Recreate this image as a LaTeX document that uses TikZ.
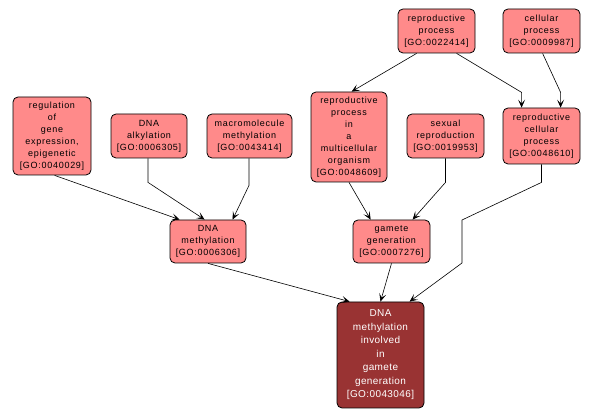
\documentclass[tikz,border=0pt]{standalone}
\usepackage{fontspec}
\usetikzlibrary{arrows.meta}
\newfontfamily\gofont{Liberation Sans}[LetterSpace=8]
\newfontfamily\gobigfont{Liberation Sans}[LetterSpace=4]
\definecolor{termfill}{RGB}{255,138,138}
\definecolor{mainfill}{RGB}{153,51,51}
\tikzset{
    term/.style={draw=black, line width=0.8pt, rounded corners=5pt, fill=termfill,
        align=center, inner sep=0pt,
        font=\gofont\fontsize{9}{12}\selectfont},
    mainterm/.style={term, fill=mainfill, text=white,
        font=\gobigfont\fontsize{10}{13.5}\selectfont},
    isa/.style={-{Stealth[length=8pt,width=7pt,inset=4pt]}, line width=0.6pt}
}
\begin{document}
\begin{tikzpicture}[x=1pt, y=-1pt]
    % Fix the page to the size of the picture
    \useasboundingbox[fill=white] (0,0) rectangle (595,419);

    % Top row
    \node[term, minimum width=77pt, minimum height=44pt] (rp) at (436.5, 31) {reproductive\\process\\{[GO:0022414]}};
    \node[term, minimum width=77pt, minimum height=44pt] (cp) at (541.5, 31) {cellular\\process\\{[GO:0009987]}};

    % Middle row
    \node[term, minimum width=78pt, minimum height=78pt] (reg) at (52, 136) {regulation\\of\\gene\\expression,\\epigenetic\\{[GO:0040029]}};
    \node[term, minimum width=76pt, minimum height=44pt] (alk) at (149, 136) {DNA\\alkylation\\{[GO:0006305]}};
    \node[term, minimum width=85pt, minimum height=44pt] (macro) at (249.5, 136) {macromolecule\\methylation\\{[GO:0043414]}};
    \node[term, minimum width=76pt, minimum height=90pt] (multi) at (349, 137) {reproductive\\process\\in\\a\\multicellular\\organism\\{[GO:0048609]}};
    \node[term, minimum width=77pt, minimum height=44pt] (sex) at (445.5, 136) {sexual\\reproduction\\{[GO:0019953]}};
    \node[term, minimum width=77pt, minimum height=56pt] (rcp) at (541.5, 136) {reproductive\\cellular\\process\\{[GO:0048610]}};

    % Lower row
    \node[term, minimum width=76pt, minimum height=43pt] (dnameth) at (208, 241.5) {DNA\\methylation\\{[GO:0006306]}};
    \node[term, minimum width=77pt, minimum height=43pt] (gam) at (391.5, 241.5) {gamete\\generation\\{[GO:0007276]}};

    % The term itself
    \node[mainterm, minimum width=87pt, minimum height=106pt] (final) at (380.5, 355) {DNA\\methylation\\involved\\in\\gamete\\generation\\{[GO:0043046]}};

    % Bend of the long edge
    \coordinate (rcpbend) at (462, 220);

    % Connect the terms
    \draw[isa] ([xshift=19pt]rp.south west) -- ([xshift=41pt]multi.north west);
    \draw[isa] ([xshift=59pt]rp.south west) -- ++(65,39) -- ([xshift=19pt]rcp.north west);
    \draw[isa] ([xshift=40pt]cp.south west) -- ++(18,39) -- ([xshift=58pt]rcp.north west);

    \draw[isa] ([xshift=42pt]reg.south west) -- ([xshift=10pt]dnameth.north west);
    \draw[isa] ([xshift=-1pt]alk.south) -- ++(0,24) -- ([xshift=35pt]dnameth.north west);
    \draw[isa] ([xshift=-0.5pt]macro.south) -- ++(0,27) -- ([xshift=63pt]dnameth.north west);

    \draw[isa] (multi.south) -- ([xshift=18pt]gam.north west);
    \draw[isa] (sex.south) -- ++(0,24) -- ([xshift=60pt]gam.north west);

    \draw[isa] (dnameth.south) -- ([xshift=13pt]final.north west);
    \draw[isa] (gam.south) -- (final.north);
    \draw[isa] (rcp.south) -- ++(0,18) -- (rcpbend) -- ++(0,43) -- ([xshift=73pt]final.north west);
\end{tikzpicture}
\end{document}
